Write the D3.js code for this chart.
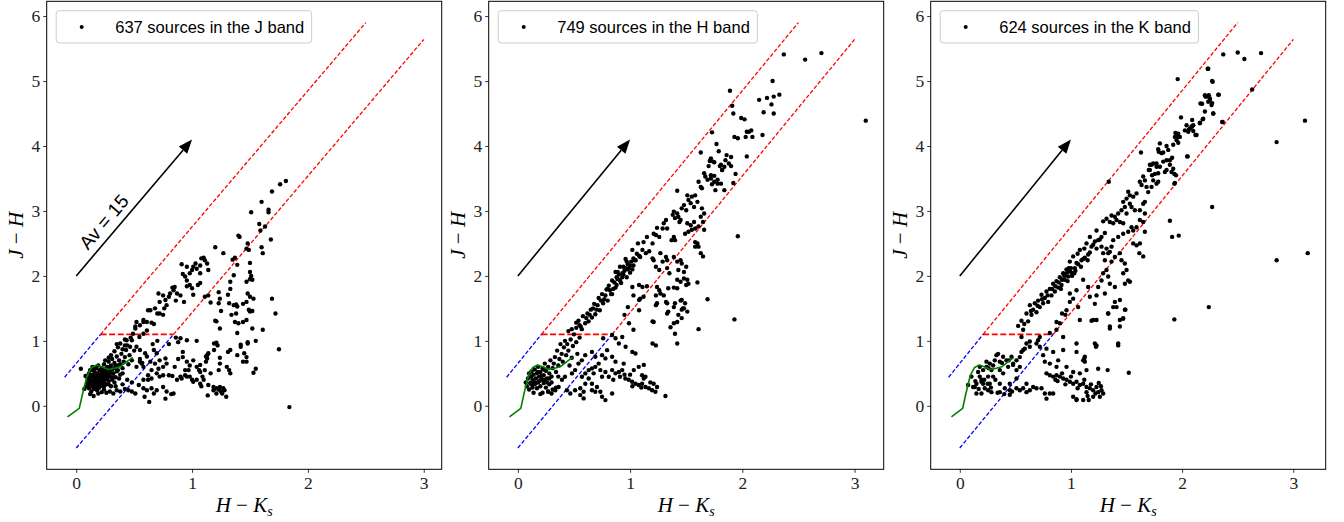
<!DOCTYPE html>
<html>
<head>
<meta charset="utf-8">
<script src="https://cdn.jsdelivr.net/npm/d3@7"></script>
<style>
  body { margin: 0; background: #fff; }
  svg { display: block; }
  .tick text { font-family: "Liberation Serif", "DejaVu Serif", serif; font-size: 17.5px; fill: #222; }
</style>
</head>
<body>
<svg id="chart" width="1344" height="522"></svg>
<script>
// ---- data ----
const bandNames = ['J', 'H', 'K'];
const sourceCounts = [637, 749, 624];
const xTicks = [0, 1, 2, 3];
const yTicks = [0, 1, 2, 3, 4, 5, 6];

// reddening band boundaries (H-Ks, J-H)
const blueUpper = [[-0.1, 0.44], [0.21, 1.1]];
const blueLower = [[0, -0.65], [0.84, 1.1]];
const redUpper = [[0.21, 1.1], [2.5, 5.9]];
const redLower = [[0.84, 1.1], [3.0, 5.64]];
const redFloor = [[0.21, 1.1], [0.84, 1.1]];
const intrinsicLocus = [[-0.075, -0.17], [0.026, -0.04], [0.055, 0.19], [0.095, 0.47], [0.133, 0.59], [0.176, 0.63],
  [0.22, 0.60], [0.277, 0.56], [0.32, 0.575], [0.378, 0.60], [0.436, 0.68], [0.488, 0.745]];
const avArrow = [[0, 2], [1.0, 4.1]];
const avLabelAt = [0.24, 2.83];

const jSources = [
  [1.81,3.46],[1.76,3.41],[1.69,3.30],[1.66,3.02],[1.66,2.98],[1.60,3.14],[1.51,2.98],[1.58,2.80],[1.63,2.76],[1.59,2.70],
  [1.68,2.56],[1.60,2.44],[1.61,2.35],[1.40,2.62],[1.41,2.60],[1.48,2.50],[1.47,2.42],[1.49,2.40],[1.35,2.25],[1.37,2.28],
  [1.27,2.35],[1.20,2.44],[1.39,2.17],[1.50,2.20],[1.50,2.06],[1.51,2.00],[1.50,1.95],[1.52,1.94],[1.36,2.01],[1.33,1.91],
  [1.33,1.80],[1.47,1.91],[1.23,1.75],[1.24,1.65],[1.31,1.71],[1.48,1.73],[1.50,1.68],[1.53,1.65],[1.32,1.58],[1.36,1.55],
  [1.39,1.53],[1.38,1.56],[1.16,1.59],[1.23,1.58],[1.47,1.60],[1.44,1.57],[1.49,1.48],[1.50,1.45],[1.52,1.46],[1.34,1.40],
  [1.38,1.42],[1.37,1.29],[1.40,1.27],[1.44,1.29],[1.20,1.31],[1.21,1.30],[1.47,1.32],[1.25,1.46],[1.24,1.19],[1.39,1.12],
  [1.52,1.19],[1.61,1.17],[1.55,1.00],[1.48,0.98],[1.48,0.96],[1.42,0.94],[1.42,0.91],[1.45,0.81],[1.39,0.78],[1.47,0.75],
  [1.44,0.68],[1.47,0.68],[1.33,0.86],[1.31,0.83],[1.24,0.74],[1.55,0.57],[1.53,0.51],[1.69,1.65],[1.72,1.42],[1.75,0.87],
  [1.84,-0.02],
  [1.19,0.96],[1.22,0.93],[1.12,0.76],[1.13,0.73],[1.12,0.68],[1.07,0.63],[1.04,1.00],[1.14,0.81],[0.92,0.83],[0.955,0.68],
  [0.98,0.62],[1.01,0.70],[1.04,0.60],[0.94,0.55],[0.97,0.55],[1.07,0.52],[1.11,0.55],[1.16,0.50],[1.23,0.55],[1.24,0.65],
  [1.30,0.60],[1.33,0.50],[1.32,0.55],[1.19,0.86],[0.90,1.04],[0.955,1.01],[1.13,0.78],[1.21,0.97],[1.06,0.55],[1.09,0.45],
  [0.86,1.05],[0.88,0.98],[0.80,0.95],[0.70,1.00],[0.66,0.95],[0.85,0.60],[0.88,0.72],[0.92,0.75],[0.64,0.68],[0.68,0.65],
  [0.52,1.29],[0.55,1.24],[0.51,1.19],[0.58,1.32],[0.61,1.29],[0.65,1.28],[0.67,1.26],[0.64,1.47],[0.68,1.50],[0.70,1.42],
  [0.72,1.42],[0.75,1.40],[0.71,1.73],[0.75,1.70],[0.77,1.63],[0.72,1.60],[0.78,1.55],[0.80,1.68],[0.81,1.73],[0.84,1.78],
  [0.83,1.82],[0.85,1.83],[0.87,1.73],[0.90,1.70],[0.92,2.03],[0.94,1.99],[0.955,1.93],[0.98,2.04],[1.00,2.09],[1.01,2.14],
  [1.03,2.19],[1.04,2.11],[1.07,2.16],[1.08,2.27],[1.10,2.28],[1.11,2.24],[1.13,2.19],[1.14,2.09],[1.07,2.04],[1.05,1.86],
  [1.00,1.81],[0.955,1.84],[0.98,1.86],[1.01,1.71],[0.91,2.18],[0.955,2.14],[1.07,1.89],[1.11,1.68],[1.14,1.70],[0.62,1.47],
  [0.58,1.29],[0.51,1.22],[0.86,1.62],[0.93,1.60],[0.76,1.50],
  [0.58,1.11],[0.61,1.16],[0.545,1.06],[0.49,1.11],[0.48,1.01],[0.435,1.01],[0.42,0.93],[0.465,0.91],[0.52,0.91],[0.55,0.86],
  [0.595,0.81],[0.61,0.76],[0.67,0.86],[0.695,0.81],[0.72,0.70],[0.77,0.73],[0.78,0.65],[0.75,0.60],[0.71,0.57],[0.65,0.55],
  [0.62,0.47],[0.58,0.40],[0.58,0.60],[0.565,0.65],[0.55,0.68],
  [0.58,0.27],[0.61,0.24],[0.65,0.27],[0.67,0.19],[0.695,0.24],[0.75,0.29],[0.78,0.22],[0.84,0.19],[0.87,0.40],[0.91,0.42],
  [0.955,0.45],[1.00,0.40],[1.01,0.37],[1.07,0.34],[1.10,0.40],[1.14,0.32],[1.185,0.29],[1.21,0.27],[1.24,0.29],[1.27,0.27],
  [1.26,0.19],[1.295,0.14],[1.21,0.19],[1.185,0.24],[1.135,0.16],[1.08,0.30],[1.04,0.40],[0.98,0.45],[0.94,0.47],[0.90,0.45],
  [0.83,0.46],[0.80,0.47],[0.75,0.47],[0.72,0.45],[0.695,0.50],[0.65,0.42],[0.62,0.40],[0.54,0.32],[0.51,0.19],[0.48,0.22],
  [0.59,0.14],[0.63,0.06],[0.77,0.11],[0.82,0.18],[1.23,0.25],[1.25,0.22],[1.28,0.24],
  [0.09,0.30],[0.10,0.36],[0.10,0.42],[0.11,0.27],[0.11,0.50],[0.12,0.33],[0.12,0.45],[0.12,0.55],[0.13,0.22],[0.13,0.39],
  [0.14,0.30],[0.14,0.48],[0.14,0.60],[0.15,0.26],[0.15,0.35],[0.15,0.43],[0.16,0.52],[0.16,0.38],[0.17,0.30],[0.17,0.45],
  [0.17,0.58],[0.18,0.24],[0.18,0.40],[0.18,0.50],[0.19,0.34],[0.19,0.62],[0.20,0.28],[0.20,0.44],[0.20,0.55],[0.21,0.38],
  [0.21,0.48],[0.22,0.31],[0.22,0.58],[0.23,0.42],[0.23,0.52],[0.24,0.25],[0.24,0.36],[0.24,0.64],[0.25,0.47],[0.25,0.56],
  [0.26,0.33],[0.26,0.41],[0.27,0.60],[0.27,0.50],[0.28,0.38],[0.28,0.68],[0.29,0.45],[0.29,0.55],[0.30,0.30],[0.30,0.62],
  [0.31,0.40],[0.31,0.72],[0.32,0.50],[0.33,0.58],[0.33,0.66],[0.34,0.44],[0.35,0.76],[0.35,0.53],[0.36,0.62],[0.37,0.70],
  [0.38,0.48],[0.39,0.80],[0.40,0.58],[0.41,0.68],[0.42,0.75],[0.43,0.86],[0.45,0.64],[0.46,0.78],[0.48,0.70],[0.50,0.85],
  [0.52,0.60],[0.55,0.72],[0.57,0.66],
  [0.12,0.18],[0.15,0.15],[0.19,0.19],[0.22,0.21],[0.26,0.20],[0.29,0.22],[0.32,0.19],[0.35,0.24],[0.38,0.22],[0.42,0.26],
  [0.45,0.24],[0.34,0.30],[0.40,0.33],[0.44,0.40],[0.48,0.36],[0.04,0.57],[0.08,0.46],[0.07,0.26],
  [0.11,0.40],[0.13,0.47],[0.14,0.35],[0.16,0.42],[0.16,0.29],[0.18,0.35],[0.19,0.46],[0.21,0.33],[0.21,0.54],[0.22,0.45],
  [0.23,0.37],[0.25,0.41],[0.26,0.52],[0.27,0.44],[0.28,0.33],[0.29,0.60],[0.30,0.50],[0.31,0.56],[0.32,0.44],[0.33,0.36],
  [0.34,0.62],[0.36,0.55],[0.37,0.42],[0.38,0.64],[0.40,0.50],[0.12,0.38],[0.14,0.55],[0.17,0.37],[0.20,0.40],[0.23,0.47],
  [0.24,0.30],[0.26,0.58],[0.19,0.28],[0.15,0.47],[0.10,0.32],
  [0.30,0.78],[0.33,0.84],[0.36,0.90],[0.38,0.96],[0.42,1.02],[0.44,0.93],[0.47,1.05],[0.40,0.87],[0.28,0.74],[0.25,0.70],
  [0.35,0.95]
];

const hSources = [
  [2.37,5.41],[2.56,5.33],[2.705,5.43],[2.27,5.00],[1.89,4.85],[1.91,4.62],[1.92,4.50],[2.15,4.71],[2.22,4.74],[2.28,4.76],
  [2.33,4.79],[2.26,4.64],[2.28,4.50],[2.19,4.52],[1.99,4.43],[2.02,4.41],[2.18,4.17],[1.93,4.14],[1.96,4.12],[2.03,4.14],
  [2.04,4.22],[2.06,4.22],[2.08,4.24],[2.09,4.14],[2.04,3.84],[1.73,4.21],[1.77,4.03],[1.79,3.92],[1.63,3.90],[3.10,4.39],
  [1.96,2.61],[1.93,1.33],[1.69,1.64],[1.61,1.18],
  [1.86,3.86],[1.90,3.83],[1.85,3.78],[1.88,3.73],[1.84,3.68],[1.82,3.63],[1.80,3.69],[1.75,3.75],[1.70,3.69],[1.72,3.55],
  [1.75,3.54],[1.78,3.42],[1.76,3.32],[1.84,3.32],[1.90,3.69],[1.94,3.57],[1.92,3.43],
  [1.72,3.81],[1.71,3.77],[1.74,3.76],[1.81,3.71],[1.82,3.63],[1.66,3.58],[1.67,3.53],[1.69,3.48],[1.72,3.50],[1.75,3.45],
  [1.78,3.48],[1.81,3.42],[1.73,3.41],[1.61,3.45],[1.63,3.37],[1.64,3.35],[1.42,3.31],[1.51,3.24],[1.55,3.22],[1.52,3.17],
  [1.54,3.12],[1.48,3.09],[1.46,3.04],[1.50,3.01],[1.57,3.06],[1.60,3.14],[1.58,3.24],[1.39,2.99],[1.38,2.94],[1.42,2.96],
  [1.40,2.89],[1.45,2.86],[1.44,2.83],[1.43,2.91],[1.64,3.04],[1.66,2.96],[1.63,2.91],[1.65,2.83],[1.61,2.76],[1.66,2.71],
  [1.51,2.81],[1.54,2.78],[1.57,2.83],[1.55,2.71],[1.58,2.73],[1.52,2.68],[1.49,2.65],[1.32,2.86],[1.30,2.81],[1.29,2.73],
  [1.33,2.73],[1.21,2.65],[1.23,2.63],[1.24,2.74],[1.26,2.60],[1.20,2.50],[1.39,2.60],[1.40,2.55],[1.37,2.55],[1.58,2.52],
  [1.60,2.50],[1.61,2.45],[1.58,2.45],[1.63,2.35],[1.65,2.30],[1.15,2.60],[1.17,2.38],[1.12,2.52],[1.11,2.40],[1.14,2.35],
  [1.09,2.29],[1.27,2.35],[1.32,2.29],[1.33,2.24],[1.29,2.22],[1.21,2.24],[1.20,2.27],[1.23,2.14],[1.26,2.09],[1.33,2.12],
  [1.35,2.04],[1.39,2.29],[1.42,2.22],[1.45,2.24],[1.46,2.19],[1.43,2.09],[1.48,2.06],[1.50,2.14],[1.42,1.94],[1.45,1.91],
  [1.48,1.96],[1.51,1.94],[1.52,1.88],[1.50,1.86],[1.60,1.90],[1.11,1.83],[1.15,1.84],[1.12,1.68],[1.09,1.65],[1.24,1.83],
  [1.26,1.78],[1.23,1.70],[1.27,1.73],[1.30,1.70],[1.34,1.81],[1.39,1.82],[1.42,1.81],[1.23,1.55],[1.24,1.58],[1.32,1.60],
  [1.33,1.58],[1.39,1.52],[1.40,1.58],[1.45,1.62],[1.46,1.63],[1.49,1.58],[1.51,1.45],[1.47,1.50],[1.33,1.42],[1.34,1.45],
  [1.46,1.48],[1.48,1.50],[1.43,1.40],[1.46,1.35],[1.42,1.29],[1.39,1.27],[1.36,1.21],[1.40,1.11],[1.20,1.30],[1.21,1.29],
  [1.02,1.83],[1.08,1.86],[1.08,1.47],[1.03,1.17],[0.99,1.27],[0.93,1.06],[0.90,0.96],[0.96,0.91],[1.02,0.83],[0.84,1.09],
  [0.87,1.04],[0.76,1.04],[1.42,0.96],[1.20,0.96],[1.23,0.93],[1.03,1.70],[1.08,1.63],[0.98,1.52],[0.95,1.40],
  [0.52,1.20],[0.54,1.31],[0.57,1.18],[0.58,1.38],[0.60,1.27],[0.62,1.42],[0.63,1.30],[0.65,1.48],[0.66,1.36],[0.68,1.57],
  [0.69,1.41],[0.71,1.55],[0.72,1.66],[0.73,1.47],[0.75,1.72],[0.76,1.58],[0.77,1.64],[0.79,1.79],[0.80,1.62],[0.81,1.85],
  [0.83,1.72],[0.84,1.93],[0.85,1.80],[0.87,2.06],[0.88,1.86],[0.89,1.95],[0.91,2.14],[0.92,1.89],[0.93,2.04],[0.94,2.02],
  [0.96,2.26],[0.97,1.98],[0.98,2.10],[0.99,2.12],[1.00,2.05],[1.02,2.40],[1.03,2.16],[1.04,2.24],[1.05,2.24],[1.07,2.50],
  [1.08,2.31],
  [0.55,1.24],[0.61,1.35],[0.64,1.40],[0.67,1.50],[0.70,1.48],[0.74,1.62],[0.78,1.70],[0.80,1.80],[0.82,1.78],[0.86,1.90],
  [0.88,1.98],[0.90,2.02],[0.93,1.98],[0.95,2.08],[0.96,2.12],[0.98,2.18],[1.00,2.16],[1.01,2.22],[1.03,2.27],[1.06,2.34],
  [0.91,1.93],[0.87,1.82],[0.84,1.72],[0.97,2.22],[1.02,2.10],[0.94,2.14],[0.89,2.06],
  [0.571,0.447],[0.601,0.499],[0.631,0.55],[0.66,0.576],[0.69,0.60],[0.72,0.65],[0.735,0.55],[0.675,0.50],[0.631,0.42],[0.601,0.34],
  [0.556,0.27],[0.586,0.216],[0.66,0.34],[0.705,0.29],[0.75,0.447],[0.78,0.52],[0.81,0.447],[0.84,0.55],[0.87,0.50],[0.90,0.52],
  [0.93,0.55],[0.91,0.447],[0.958,0.42],[0.988,0.40],[1.018,0.37],[1.048,0.34],[1.077,0.32],[1.107,0.34],[1.137,0.29],[1.167,0.27],
  [1.196,0.24],[1.226,0.216],[1.24,0.29],[1.21,0.34],[1.137,0.447],[1.107,0.47],[1.077,0.60],[1.122,0.63],[1.048,0.806],[1.033,0.55],
  [0.943,0.65],[0.87,0.68],[0.84,0.755],[0.78,0.73],[0.75,0.78],[0.795,0.857],[0.69,0.755],[0.66,0.83],[0.60,0.78],[0.57,0.70],
  [0.54,0.65],[0.51,0.55],[0.482,0.499],[0.42,0.447],[0.393,0.40],[0.363,0.29],[0.333,0.24],[0.30,0.19],[0.27,0.216],[0.437,0.24],
  [0.467,0.19],[0.51,0.24],[0.556,0.165],[0.586,0.114],[0.66,0.24],[0.69,0.216],[0.735,0.216],[0.75,0.14],[0.78,0.088],[0.84,0.19],
  [1.315,0.15],[1.122,0.42],[0.95,0.48],[1.02,0.30],[1.10,0.28],[1.18,0.36],[0.85,0.40],[1.00,0.48],
  [0.07,0.36],[0.08,0.30],[0.09,0.42],[0.10,0.50],[0.10,0.25],[0.11,0.35],[0.12,0.45],[0.12,0.53],[0.13,0.28],[0.13,0.40],
  [0.14,0.20],[0.14,0.48],[0.15,0.33],[0.15,0.56],[0.16,0.42],[0.17,0.27],[0.17,0.50],[0.18,0.36],[0.18,0.60],[0.19,0.45],
  [0.20,0.30],[0.20,0.52],[0.21,0.40],[0.22,0.20],[0.22,0.58],[0.23,0.35],[0.23,0.47],[0.24,0.65],[0.25,0.28],[0.25,0.54],
  [0.26,0.42],[0.27,0.60],[0.28,0.33],[0.28,0.50],[0.29,0.70],[0.30,0.45],[0.31,0.58],[0.32,0.65],[0.33,0.75],[0.34,0.52],
  [0.35,0.85],[0.36,0.62],[0.37,0.72],[0.38,0.95],[0.39,0.80],[0.40,0.68],[0.41,0.90],[0.42,1.00],[0.43,0.78],[0.44,0.95],
  [0.45,0.85],[0.47,1.02],[0.48,0.74],[0.49,0.92],[0.50,1.10],[0.52,0.98],[0.53,0.80],[0.55,1.05],[0.46,0.62],[0.27,0.22],
  [0.31,0.25],[0.34,0.28],[0.20,0.18],[0.36,0.45],[0.16,0.35],[0.19,0.38],[0.21,0.46],[0.24,0.40],[0.26,0.36],[0.14,0.38],
  [0.18,0.52],[0.23,0.56],[0.12,0.33],[0.28,0.42],[0.30,0.36],[0.52,1.28],[0.48,1.18],[0.56,1.22],[0.45,1.15]
];

const kSources = [
  [3.105,4.39],[2.85,4.06],[2.85,2.24],[3.13,2.35],[2.27,3.06],[2.24,1.52],[1.93,1.33],[1.89,2.85],[1.91,2.60],[1.97,2.62],
  [1.52,0.51],[2.37,5.41],[2.50,5.44],[2.56,5.34],[2.71,5.43],[2.63,4.87],[1.96,5.03],[2.23,5.19],[2.27,5.00],[2.33,4.79],
  [2.28,4.50],[2.36,4.37],[2.21,4.76],[2.24,4.78],[2.25,4.71],[2.27,4.66],[2.18,4.65],[1.99,4.44],[1.94,4.20],[1.96,4.14],
  [2.04,4.32],[2.06,4.25],[2.09,4.30],[2.10,4.23],[2.12,4.17],[2.16,4.36],[2.19,4.42],[2.09,4.40],[2.05,3.84],[1.93,3.42],
  [1.93,3.57],[1.63,3.90],[1.80,4.04],[1.79,3.91],[1.83,3.90],[1.875,3.94],[1.89,3.78],[1.83,3.76],[1.77,3.73],[1.725,3.71],
  [1.80,3.68],[1.86,3.63],[1.92,3.65],[1.755,3.57],[1.71,3.63],[1.34,3.45],
  [1.785,3.95],[1.815,3.89],[1.91,3.82],[1.86,3.78],[1.71,3.71],[1.74,3.73],[1.77,3.68],[1.845,3.60],[1.785,3.58],[1.73,3.55],
  [1.70,3.63],[1.89,3.71],[1.905,3.60],[1.65,3.53],[1.665,3.47],[1.62,3.45],[1.635,3.40],[1.68,3.37],[1.74,3.47],[1.77,3.42],
  [1.725,3.37],[1.785,3.45],[1.695,3.29],
  [1.515,3.295],[1.53,3.24],[1.50,3.19],[1.56,3.22],[1.59,3.27],[1.47,3.14],[1.485,3.06],[1.53,3.11],[1.545,3.06],[1.575,3.01],
  [1.455,3.01],[1.425,2.96],[1.50,2.96],[1.395,2.91],[1.365,2.93],[1.41,2.86],[1.35,2.83],[1.38,2.81],[1.44,2.83],[1.47,2.81],
  [1.32,2.88],[1.305,2.66],[1.29,2.84],[1.26,2.56],[1.23,2.70],[1.20,2.48],[1.17,2.60],[1.215,2.53],[1.275,2.60],[1.245,2.55],
  [1.185,2.45],[1.23,2.42],[1.275,2.45],[1.32,2.42],[1.29,2.35],[1.335,2.35],[1.365,2.45],[1.38,2.55],[1.425,2.60],[1.47,2.65],
  [1.515,2.68],[1.545,2.75],[1.56,2.70],[1.59,2.75],[1.62,2.86],[1.65,2.83],[1.665,2.96],[1.62,3.01],[1.65,3.11],[1.665,3.14],
  [1.35,2.37],[1.395,2.29],[1.44,2.35],[1.455,2.24],[1.485,2.19],[1.50,2.09],[1.47,2.04],[1.515,1.93],[1.485,1.88],[1.53,1.91],
  [1.365,2.22],[1.305,2.24],[1.32,2.09],[1.29,2.04],[1.335,1.99],[1.275,1.93],[1.35,1.88],[1.395,1.83],[1.245,1.83],[1.23,1.70],
  [1.305,1.73],[1.215,1.57],[1.395,1.60],[1.38,1.52],[1.44,1.63],[1.41,1.52],[1.485,1.48],[1.335,1.42],[1.44,1.32],[1.47,1.35],
  [1.35,1.22],[1.20,1.32],[1.185,1.31],[1.615,2.35],[1.65,2.30],[1.56,2.50],[1.59,2.47],[1.665,2.68],[1.62,2.50],
  [1.935,4.14],[1.95,4.09],[1.965,4.19],[1.98,4.14],[2.025,4.24],[2.055,4.22],[2.07,4.27],[2.085,4.30],[2.10,4.32],[2.13,4.17],
  [2.16,4.35],[2.185,4.41],[2.205,4.53],[2.235,4.68],[2.25,4.73],[2.22,4.76],[2.205,4.78],[2.265,4.63],[2.28,4.50],[2.165,4.655],
  [2.045,3.84],[1.945,3.55],[1.935,3.43],[1.86,4.00],[1.92,4.02],[1.965,4.05],[2.365,4.37],[2.325,4.79],[2.275,4.99],[2.235,5.19],
  [0.525,1.23],[0.555,1.31],[0.57,1.17],[0.60,1.42],[0.615,1.30],[0.63,1.55],[0.645,1.40],[0.66,1.48],[0.675,1.58],[0.69,1.44],
  [0.705,1.62],[0.72,1.52],[0.735,1.71],[0.75,1.58],[0.765,1.66],[0.78,1.76],[0.795,1.60],[0.81,1.80],[0.825,1.70],[0.84,1.88],
  [0.855,1.76],[0.87,1.92],[0.885,1.82],[0.90,1.98],[0.915,1.86],[0.93,2.04],[0.945,1.94],[0.96,2.10],[0.975,1.99],[0.99,2.22],
  [1.005,2.05],[1.02,2.30],[1.035,2.12],[1.05,2.20],[1.065,2.18],[1.08,2.40],[1.095,2.24],[1.11,2.26],[1.125,2.28],[1.14,2.50],
  [1.155,2.33],[1.17,2.36],
  [0.58,1.26],[0.64,1.46],[0.70,1.54],[0.74,1.64],[0.79,1.70],[0.83,1.80],[0.86,1.84],[0.89,1.90],[0.92,1.94],[0.95,2.03],
  [0.97,2.06],[0.99,2.08],[1.00,2.12],[1.01,2.00],[1.03,2.04],[1.06,2.34],[1.09,2.14],[1.12,2.42],[1.15,2.24],[0.94,2.00],
  [0.98,2.12],[1.04,2.08],[0.91,1.80],[0.97,1.92],
  [1.08,1.32],[1.065,1.52],[1.155,1.83],[1.02,1.65],[0.99,1.73],[0.92,1.42],[0.95,1.40],[0.87,1.29],
  [1.17,1.68],[1.11,1.94],[1.05,1.78],[0.99,1.60],[0.96,1.47],[0.90,1.27],[0.87,1.17],[0.93,1.06],[0.81,1.12],[0.72,1.06],
  [0.69,0.96],[0.63,0.91],[0.60,0.96],[0.57,0.86],[0.54,0.75],[0.51,0.70],[0.48,0.65],[1.425,0.96],
  [0.78,0.50],[0.81,0.47],[0.84,0.45],[0.87,0.47],[0.90,0.45],[0.93,0.42],[0.96,0.40],[0.99,0.37],[1.02,0.34],[1.05,0.37],
  [1.08,0.32],[1.11,0.34],[1.14,0.29],[1.17,0.27],[1.20,0.24],[1.23,0.29],[1.245,0.21],[1.275,0.24],[1.29,0.19],[1.26,0.14],
  [1.20,0.14],[1.14,0.21],[1.11,0.09],[1.05,0.09],[1.02,0.14],[0.84,0.19],[0.81,0.19],[0.78,0.11],[0.765,0.19],[0.735,0.27],
  [0.69,0.27],[0.66,0.29],[0.63,0.24],[0.60,0.21],[0.57,0.27],[0.54,0.24],[0.51,0.27],[0.45,0.24],[0.405,0.27],[0.36,0.21],
  [0.285,0.21],[0.255,0.24],[0.51,0.42],[0.60,0.34],[0.96,0.60],[1.02,0.52],[1.08,0.50],[1.14,0.55],[1.11,0.70],[1.125,0.755],
  [1.05,0.96],[1.05,0.83],[0.93,0.86],[0.84,0.83],[0.78,0.88],[0.705,1.01],[0.765,0.68],[1.215,0.96],[1.23,0.93],
  [0.88,0.38],[0.95,0.33],[1.00,0.45],[1.06,0.27],[1.12,0.40],[1.18,0.33],[1.22,0.19],[1.27,0.30],[0.92,0.50],[0.86,0.40],
  [1.15,0.15],[1.25,0.35],
  [1.425,0.93],[1.33,0.55],[1.245,0.57],[1.335,1.42],[1.35,1.19],[1.44,1.22],[1.47,1.34],[1.49,1.48],[1.23,1.32],[1.225,0.91],
  [1.12,0.73],[1.125,0.68],[1.05,0.10],[1.16,0.09],
  [0.135,0.29],[0.15,0.34],[0.18,0.45],[0.195,0.40],[0.21,0.34],[0.165,0.52],[0.21,0.55],[0.24,0.60],[0.27,0.65],[0.315,0.70],
  [0.36,0.68],[0.39,0.755],[0.42,0.70],[0.465,0.755],[0.33,0.78],[0.285,0.55],[0.255,0.45],[0.225,0.27],[0.195,0.19],[0.27,0.34],
  [0.30,0.45],[0.36,0.55],[0.39,0.50],[0.435,0.60],[0.48,0.63],[0.51,0.55],[0.54,0.60],[0.555,0.83],[0.585,0.88],[0.63,0.99],
  [0.45,0.34],[0.36,0.34],[0.345,0.80],[0.24,0.68],[0.72,0.91],[0.75,0.78],[0.81,0.65],[0.87,0.60],[0.885,0.70],[0.555,1.06],
  [0.075,0.32],[0.12,0.29],[0.15,0.19],[0.105,0.45],[0.195,0.37],[0.17,0.26],[0.22,0.40],[0.25,0.34],[0.28,0.28],[0.32,0.40],
  [0.14,0.38],[0.18,0.60],[0.26,0.58],[0.30,0.62],[0.38,0.66],[0.44,0.70],[0.34,0.20],[0.40,0.18],[0.47,0.22],[0.45,0.17]
];

const panelSources = [jSources, hSources, kSources];

// ---- layout ----
const panelLeft = [46.7, 488.7, 930.7];
const panelTop = 1.3;
const panelW = 395;
const panelH = 468;

const svg = d3.select('#chart');

const lineGen = (x, y) => d3.line().x(d => x(d[0])).y(d => y(d[1]));

const padded = ([lo, hi]) => {
  const m = (hi - lo) * 0.05;
  return [lo - m, hi + m];
};

panelSources.forEach((sources, i) => {
  const guides = [blueUpper, blueLower, redUpper, redLower, redFloor, intrinsicLocus];
  const allPts = sources.concat(...guides);

  const x = d3.scaleLinear()
    .domain(padded(d3.extent(allPts, d => d[0])))
    .range([0, panelW]);
  const y = d3.scaleLinear()
    .domain(padded(d3.extent(allPts, d => d[1])))
    .range([panelH, 0]);

  const g = svg.append('g')
    .attr('transform', `translate(${panelLeft[i]},${panelTop})`);

  const line = lineGen(x, y);

  // boundaries
  const dashed = (data, colour, width, dash) => g.append('path').datum(data).attr('d', line)
    .attr('fill', 'none').attr('stroke', colour).attr('stroke-width', width).attr('stroke-dasharray', dash);
  dashed(redUpper, '#ff0000', 1.3, '4,2');
  dashed(redLower, '#ff0000', 1.3, '4,2');
  dashed(redFloor, '#ff0000', 1.6, '6,2.6');
  dashed(blueUpper, '#0000ff', 1.3, '4,2');
  dashed(blueLower, '#0000ff', 1.3, '4,2');

  // sources
  g.append('g').selectAll('circle')
    .data(sources)
    .join('circle')
    .attr('cx', d => x(d[0]))
    .attr('cy', d => y(d[1]))
    .attr('r', 2.2)
    .attr('fill', '#000');

  // intrinsic locus
  g.append('path').datum(intrinsicLocus).attr('d', line)
    .attr('fill', 'none').attr('stroke', '#008000').attr('stroke-width', 1.6)
    .attr('stroke-linejoin', 'round');

  // reddening vector
  const p0 = [x(avArrow[0][0]), y(avArrow[0][1])];
  const p1 = [x(avArrow[1][0]), y(avArrow[1][1])];
  const len = Math.hypot(p1[0] - p0[0], p1[1] - p0[1]);
  const ux = (p1[0] - p0[0]) / len;
  const uy = (p1[1] - p0[1]) / len;
  const headLen = 14;
  const headHalf = 5.5;
  const base = [p1[0] - ux * headLen, p1[1] - uy * headLen];
  g.append('line')
    .attr('x1', p0[0]).attr('y1', p0[1])
    .attr('x2', base[0]).attr('y2', base[1])
    .attr('stroke', '#000').attr('stroke-width', 1.6);
  g.append('polygon')
    .attr('points', [
      p1,
      [base[0] - uy * headHalf, base[1] + ux * headHalf],
      [base[0] + uy * headHalf, base[1] - ux * headHalf]
    ].map(p => p.join(',')).join(' '))
    .attr('fill', '#000');

  if (i === 0) {
    const angle = Math.atan2(p1[1] - p0[1], p1[0] - p0[0]) * 180 / Math.PI;
    g.append('text')
      .attr('transform', `translate(${x(avLabelAt[0])},${y(avLabelAt[1])}) rotate(${angle})`)
      .attr('text-anchor', 'middle')
      .attr('dominant-baseline', 'central')
      .style('font-family', '"Liberation Sans", Arial, sans-serif')
      .style('font-size', '19px')
      .text('Av = 15');
  }

  // axes
  const xAxis = g.append('g')
    .attr('transform', `translate(0,${panelH})`)
    .call(d3.axisBottom(x).tickValues(xTicks).tickFormat(d3.format('d')).tickSize(3.5).tickPadding(3.5));
  const yAxis = g.append('g')
    .call(d3.axisLeft(y).tickValues(yTicks).tickFormat(d3.format('d')).tickSize(3.5).tickPadding(3));
  [xAxis, yAxis].forEach(a => {
    a.select('.domain').remove();
    a.selectAll('.tick line').attr('stroke', '#000').attr('stroke-width', 0.8);
  });

  g.append('rect')
    .attr('x', 0).attr('y', 0)
    .attr('width', panelW).attr('height', panelH)
    .attr('fill', 'none').attr('stroke', '#000').attr('stroke-width', 1);

  // axis labels
  const xl = g.append('text')
    .attr('x', panelW / 2).attr('y', 511)
    .attr('text-anchor', 'middle')
    .style('font-family', '"Liberation Serif", "DejaVu Serif", serif')
    .style('font-size', '21px');
  xl.append('tspan').style('font-style', 'italic').text('H');
  xl.append('tspan').text(' \u2212 ');
  xl.append('tspan').style('font-style', 'italic').text('K');
  xl.append('tspan').style('font-style', 'italic').style('font-size', '14px').attr('dy', 4).text('s');

  const yl = g.append('text')
    .attr('transform', `translate(-24,${panelH / 2}) rotate(-90)`)
    .attr('text-anchor', 'middle')
    .style('font-family', '"Liberation Serif", "DejaVu Serif", serif')
    .style('font-size', '21px');
  yl.append('tspan').style('font-style', 'italic').text('J');
  yl.append('tspan').text(' \u2212 ');
  yl.append('tspan').style('font-style', 'italic').text('H');

  // legend
  const leg = g.append('g').attr('transform', 'translate(9.5,9.4)');
  const legBox = leg.append('rect')
    .attr('x', 0).attr('y', 0).attr('height', 32.3)
    .attr('rx', 3).attr('ry', 3)
    .attr('fill', '#fff').attr('fill-opacity', 0.8)
    .attr('stroke', '#cccccc').attr('stroke-width', 1);
  leg.append('circle').attr('cx', 25.5).attr('cy', 16.3).attr('r', 2).attr('fill', '#000');
  const legText = leg.append('text')
    .attr('x', 59).attr('y', 22)
    .style('font-family', '"Liberation Sans", Arial, sans-serif')
    .style('font-size', '16.5px')
    .text(`${sourceCounts[i]} sources in the ${bandNames[i]} band`);
  legBox.attr('width', 59 + legText.node().getComputedTextLength() + 7.5);
});
</script>
</body>
</html>
